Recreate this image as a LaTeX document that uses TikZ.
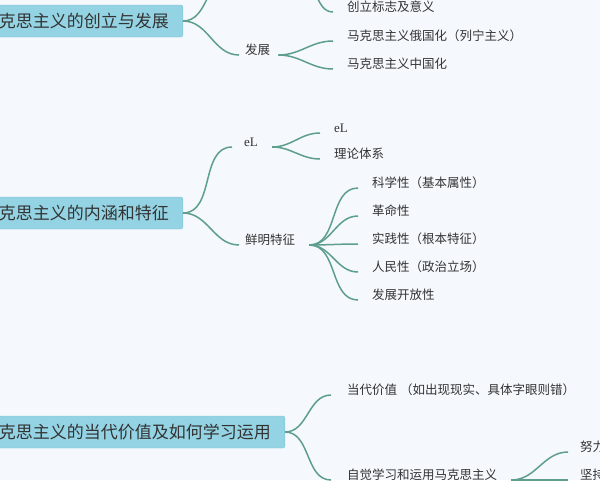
\documentclass[tikz,border=0pt]{standalone}
\usepackage{fontspec}
\setmainfont{Noto Sans CJK SC}
\newfontfamily\serifpart{Liberation Serif}
\usetikzlibrary{positioning}
\definecolor{bgc}{HTML}{F5F9FD}
\definecolor{boxc}{HTML}{94D3E3}
\definecolor{boxd}{HTML}{7FC2D2}
\definecolor{linkc}{HTML}{5E9E8C}
\definecolor{txtc}{HTML}{333333}

\begin{document}
\begin{tikzpicture}[x=1pt,y=-1pt,
    rootbox/.style={draw=boxd,fill=boxc,rounded corners=2pt,text=txtc,
      font=\fontsize{17}{19}\selectfont,inner xsep=14pt,minimum height=32pt,anchor=east},
    leaf/.style={text=txtc,font=\fontsize{12.5}{15}\selectfont,anchor=west,inner sep=0pt},
    link/.style={draw=linkc,line width=1.5pt,out=0,in=180}]
  \useasboundingbox (0,0) rectangle (600,480);
  \fill[bgc] (0,0) rectangle (600,480);
  \clip (0,0) rectangle (600,480);

  % first root
  \node[rootbox] (R1) at (183,21) {马克思主义的创立与发展};
  \coordinate (C1) at (232,-25);
  \node[leaf] (FZ) at (245,50) {发展};
  \node[leaf] (CL) at (347,7) {创立标志及意义};
  \node[leaf] (EG) at (347,36) {马克思主义俄国化（列宁主义）};
  \node[leaf] (ZG) at (347,64) {马克思主义中国化};
  \draw[link] (R1.east) to (C1);
  \draw[link] (R1.east) to ([xshift=-6pt,yshift=-5pt]FZ.west);
  \draw[link] (300,-20) to ([xshift=-14pt,yshift=-5pt]CL.west);
  \draw[link] ([xshift=8pt,yshift=-5pt]FZ.east) to ([xshift=-14pt,yshift=-5pt]EG.west);
  \draw[link] ([xshift=8pt,yshift=-5pt]FZ.east) to ([xshift=-14pt,yshift=-5pt]ZG.west);

  % second root
  \node[rootbox] (R2) at (183,213) {马克思主义的内涵和特征};
  \node[leaf,font=\serifpart\fontsize{13}{15}\selectfont] (EL) at (244,142) {eL};
  \node[leaf] (TS) at (245,240) {鲜明特征};
  \node[leaf,font=\serifpart\fontsize{13}{15}\selectfont] (EL2) at (334,128) {eL};
  \node[leaf] (LL) at (334,154) {理论体系};
  \draw[link] (R2.east) to ([xshift=-12pt,yshift=-5pt]EL.west);
  \draw[link] (R2.east) to ([xshift=-6pt,yshift=-5pt]TS.west);
  \draw[link] ([xshift=14pt,yshift=-5pt]EL.east) to ([xshift=-14pt,yshift=-5pt]EL2.west);
  \draw[link] ([xshift=14pt,yshift=-5pt]EL.east) to ([xshift=-14pt,yshift=-5pt]LL.west);
  \foreach \name/\txt/\yy in {KX/科学性（基本属性）/183, GM/革命性/211, SJ/实践性（根本特征）/239,
      RM/人民性（政治立场）/267, KF/发展开放性/295}{
    \node[leaf] (\name) at (372,\yy) {\txt};
    \draw[link] ([xshift=14pt,yshift=-5pt]TS.east) to ([xshift=-14pt,yshift=-5pt]\name.west);
  }

  % third root
  \node[rootbox] (R3) at (285,432) {马克思主义的当代价值及如何学习运用};
  \node[leaf] (DD) at (347,390) {当代价值 （如出现现实、具体字眼则错）};
  \node[leaf] (ZJ) at (347,475) {自觉学习和运用马克思主义};
  \node[leaf] (NL) at (580,447) {努力};
  \node[leaf] (JC) at (580,475) {坚持};
  \draw[link] (R3.east) to ([xshift=-16pt,yshift=-5pt]DD.west);
  \draw[link] (R3.east) to ([xshift=-16pt,yshift=-5pt]ZJ.west);
  \draw[link] ([xshift=14pt,yshift=-5pt]ZJ.east) to ([xshift=-12pt,yshift=-5pt]NL.west);
  \draw[link] ([xshift=14pt,yshift=-5pt]ZJ.east) to ([xshift=-12pt,yshift=-5pt]JC.west);
\end{tikzpicture}
\end{document}
